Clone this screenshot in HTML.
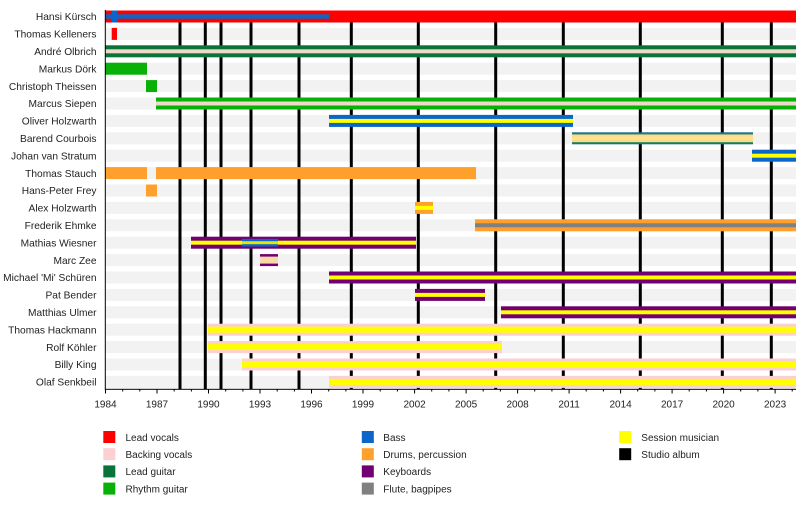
<!DOCTYPE html>
<html>
<head>
<meta charset="utf-8">
<style>
html,body{margin:0;padding:0;background:#fff;}
svg{display:block;}
text{font-family:"Liberation Sans",Arial,sans-serif;fill:#222;}
</style>
</head>
<body>
<svg width="800" height="513" viewBox="0 0 800 513" xmlns="http://www.w3.org/2000/svg">
<rect x="0" y="0" width="800" height="513" fill="#fff"/>

<!-- background bands -->
<g fill="#f2f2f2">
<rect x="105.5" y="10.5" width="690.5" height="12"/>
<rect x="105.5" y="27.9" width="690.5" height="12"/>
<rect x="105.5" y="45.3" width="690.5" height="12"/>
<rect x="105.5" y="62.7" width="690.5" height="12"/>
<rect x="105.5" y="80.1" width="690.5" height="12"/>
<rect x="105.5" y="97.5" width="690.5" height="12"/>
<rect x="105.5" y="114.9" width="690.5" height="12"/>
<rect x="105.5" y="132.3" width="690.5" height="12"/>
<rect x="105.5" y="149.7" width="690.5" height="12"/>
<rect x="105.5" y="167.1" width="690.5" height="12"/>
<rect x="105.5" y="184.5" width="690.5" height="12"/>
<rect x="105.5" y="201.9" width="690.5" height="12"/>
<rect x="105.5" y="219.3" width="690.5" height="12"/>
<rect x="105.5" y="236.7" width="690.5" height="12"/>
<rect x="105.5" y="254.1" width="690.5" height="12"/>
<rect x="105.5" y="271.5" width="690.5" height="12"/>
<rect x="105.5" y="288.9" width="690.5" height="12"/>
<rect x="105.5" y="306.3" width="690.5" height="12"/>
<rect x="105.5" y="323.7" width="690.5" height="12"/>
<rect x="105.5" y="341.1" width="690.5" height="12"/>
<rect x="105.5" y="358.5" width="690.5" height="12"/>
<rect x="105.5" y="375.9" width="690.5" height="12"/>
</g>

<!-- studio album lines -->
<g fill="#000">
<rect x="178.5" y="11" width="3" height="378"/>
<rect x="203.8" y="11" width="3" height="378"/>
<rect x="219.5" y="11" width="3" height="378"/>
<rect x="249.5" y="11" width="3" height="378"/>
<rect x="297.5" y="11" width="3" height="378"/>
<rect x="349.8" y="11" width="3" height="378"/>
<rect x="416.8" y="11" width="3" height="378"/>
<rect x="494.2" y="11" width="3" height="378"/>
<rect x="561.8" y="11" width="3" height="378"/>
<rect x="638.8" y="11" width="3" height="378"/>
<rect x="720.8" y="11" width="3" height="378"/>
<rect x="769.8" y="11" width="3" height="378"/>
</g>

<!-- Row 0 Hansi Kürsch -->
<rect x="105.5" y="10.5" width="690.5" height="12" fill="#ff0000"/>
<rect x="105.5" y="14.3" width="223.8" height="4.4" fill="#0a66c8"/>
<rect x="111.7" y="10.5" width="5.6" height="12" fill="#0a66c8"/>

<!-- Row 1 Thomas Kelleners -->
<rect x="111.7" y="27.9" width="5.3" height="12" fill="#ff0000"/>

<!-- Row 2 André Olbrich -->
<rect x="105.5" y="45.3" width="690.5" height="12" fill="#0a7339"/>
<rect x="105.5" y="49.3" width="690.5" height="4" fill="#efd9c8"/>

<!-- Row 3 Markus Dörk -->
<rect x="105.5" y="62.7" width="41.5" height="12" fill="#08b008"/>

<!-- Row 4 Christoph Theissen -->
<rect x="146" y="80.1" width="11" height="12" fill="#08b008"/>

<!-- Row 5 Marcus Siepen -->
<rect x="156" y="97.5" width="640" height="12" fill="#08b008"/>
<rect x="156" y="101.5" width="640" height="4" fill="#efd9c8"/>

<!-- Row 6 Oliver Holzwarth -->
<rect x="329" y="114.9" width="244" height="12" fill="#0a66c8"/>
<rect x="329" y="118.9" width="244" height="4" fill="#ffff00"/>

<!-- Row 7 Barend Courbois -->
<rect x="572" y="132.3" width="181" height="12" fill="#1a6a9c"/>
<rect x="572" y="133.5" width="181" height="9.6" fill="#2f8a5a"/>
<rect x="572" y="134.5" width="181" height="7.6" fill="#fcd98e"/>
<rect x="572" y="136.8" width="181" height="3" fill="#fde48c"/>

<!-- Row 8 Johan van Stratum -->
<rect x="752" y="149.7" width="44" height="12" fill="#0a66c8"/>
<rect x="752" y="153.7" width="44" height="4" fill="#ffff00"/>

<!-- Row 9 Thomas Stauch -->
<rect x="105.5" y="167.1" width="41.5" height="12" fill="#ffa02c"/>
<rect x="156" y="167.1" width="320" height="12" fill="#ffa02c"/>

<!-- Row 10 Hans-Peter Frey -->
<rect x="146" y="184.5" width="11" height="12" fill="#ffa02c"/>

<!-- Row 11 Alex Holzwarth -->
<rect x="415" y="201.9" width="18" height="12" fill="#ffa02c"/>
<rect x="415" y="205.9" width="18" height="4" fill="#ffff00"/>

<!-- Row 12 Frederik Ehmke -->
<rect x="475" y="219.3" width="321" height="12" fill="#ffa02c"/>
<rect x="475" y="223.3" width="321" height="4" fill="#808080"/>

<!-- Row 13 Mathias Wiesner -->
<rect x="191" y="236.7" width="225" height="12" fill="#720072"/>
<rect x="191" y="240.7" width="225" height="4" fill="#ffff00"/>
<rect x="242" y="238.9" width="36" height="7.6" fill="#0a66c8"/>
<rect x="242" y="241.2" width="36" height="3" fill="#e6e600"/>

<!-- Row 14 Marc Zee -->
<rect x="260" y="254.1" width="18" height="12" fill="#720072"/>
<rect x="260" y="256.6" width="18" height="7" fill="#f9d9a6"/>

<!-- Row 15 Michael 'Mi' Schüren -->
<rect x="329" y="271.5" width="467" height="12" fill="#720072"/>
<rect x="329" y="275.5" width="467" height="4" fill="#ffff00"/>

<!-- Row 16 Pat Bender -->
<rect x="415" y="288.9" width="70" height="12" fill="#720072"/>
<rect x="415" y="292.9" width="70" height="4" fill="#ffff00"/>

<!-- Row 17 Matthias Ulmer -->
<rect x="501" y="306.3" width="295" height="12" fill="#720072"/>
<rect x="501" y="310.3" width="295" height="4" fill="#ffff00"/>

<!-- Row 18 Thomas Hackmann -->
<rect x="208" y="323.7" width="588" height="12" fill="#fccfd2"/>
<rect x="208" y="326.7" width="588" height="6" fill="#ffff00"/>

<!-- Row 19 Rolf Köhler -->
<rect x="208" y="341.1" width="294" height="12" fill="#fccfd2"/>
<rect x="208" y="344.1" width="294" height="6" fill="#ffff00"/>

<!-- Row 20 Billy King -->
<rect x="242" y="358.5" width="554" height="12" fill="#fccfd2"/>
<rect x="242" y="361.5" width="554" height="6" fill="#ffff00"/>

<!-- Row 21 Olaf Senkbeil -->
<rect x="329" y="375.9" width="467" height="12" fill="#fccfd2"/>
<rect x="329" y="378.9" width="467" height="6" fill="#ffff00"/>

<!-- axes -->
<rect x="104.8" y="10" width="1" height="379.5" fill="#000"/>
<rect x="104.8" y="388.8" width="691.2" height="1" fill="#000"/>
<g stroke="#000" stroke-width="1">
<path d="M122.7 389v2.5M139.8 389v2.5M174.2 389v2.5M191.4 389v2.5M225.7 389v2.5M242.9 389v2.5M277.2 389v2.5M294.4 389v2.5M328.7 389v2.5M345.9 389v2.5M380.2 389v2.5M397.4 389v2.5M431.7 389v2.5M448.9 389v2.5M483.2 389v2.5M500.4 389v2.5M534.7 389v2.5M551.9 389v2.5M586.2 389v2.5M603.4 389v2.5M637.7 389v2.5M654.9 389v2.5M689.2 389v2.5M706.4 389v2.5M740.7 389v2.5M757.9 389v2.5M792.2 389v2.5"/>
<path d="M105.5 389v4.5M157 389v4.5M208.5 389v4.5M260 389v4.5M311.5 389v4.5M363 389v4.5M414.6 389v4.5M466.1 389v4.5M517.6 389v4.5M569.1 389v4.5M620.6 389v4.5M672.1 389v4.5M723.6 389v4.5M775.1 389v4.5"/>
</g>
<g font-size="10" text-anchor="middle">
<text x="105.5" y="407.5">1984</text>
<text x="157" y="407.5">1987</text>
<text x="208.5" y="407.5">1990</text>
<text x="260" y="407.5">1993</text>
<text x="311.5" y="407.5">1996</text>
<text x="363" y="407.5">1999</text>
<text x="414.6" y="407.5">2002</text>
<text x="466.1" y="407.5">2005</text>
<text x="517.6" y="407.5">2008</text>
<text x="569.1" y="407.5">2011</text>
<text x="620.6" y="407.5">2014</text>
<text x="672.1" y="407.5">2017</text>
<text x="723.6" y="407.5">2020</text>
<text x="775.1" y="407.5">2023</text>
</g>

<!-- row labels -->
<g font-size="10.2" text-anchor="end">
<text x="96.5" y="20.2">Hansi Kürsch</text>
<text x="96.5" y="37.6">Thomas Kelleners</text>
<text x="96.5" y="55">André Olbrich</text>
<text x="96.5" y="72.4">Markus Dörk</text>
<text x="96.5" y="89.8">Christoph Theissen</text>
<text x="96.5" y="107.2">Marcus Siepen</text>
<text x="96.5" y="124.6">Oliver Holzwarth</text>
<text x="96.5" y="142">Barend Courbois</text>
<text x="96.5" y="159.4">Johan van Stratum</text>
<text x="96.5" y="176.8">Thomas Stauch</text>
<text x="96.5" y="194.2">Hans-Peter Frey</text>
<text x="96.5" y="211.6">Alex Holzwarth</text>
<text x="96.5" y="229">Frederik Ehmke</text>
<text x="96.5" y="246.4">Mathias Wiesner</text>
<text x="96.5" y="263.8">Marc Zee</text>
<text x="96.5" y="281.2">Michael 'Mi' Schüren</text>
<text x="96.5" y="298.6">Pat Bender</text>
<text x="96.5" y="316">Matthias Ulmer</text>
<text x="96.5" y="333.4">Thomas Hackmann</text>
<text x="96.5" y="350.8">Rolf Köhler</text>
<text x="96.5" y="368.2">Billy King</text>
<text x="96.5" y="385.6">Olaf Senkbeil</text>
</g>

<!-- legend -->
<rect x="103.3" y="431" width="12" height="12" fill="#ff0000"/>
<rect x="103.3" y="448.2" width="12" height="12" fill="#fccfd2"/>
<rect x="103.3" y="465.4" width="12" height="12" fill="#0a7339"/>
<rect x="103.3" y="482.6" width="12" height="12" fill="#08b008"/>
<rect x="361.8" y="431" width="12" height="12" fill="#0a66c8"/>
<rect x="361.8" y="448.2" width="12" height="12" fill="#ffa02c"/>
<rect x="361.8" y="465.4" width="12" height="12" fill="#720072"/>
<rect x="361.8" y="482.6" width="12" height="12" fill="#808080"/>
<rect x="619.2" y="431" width="12" height="12" fill="#ffff00"/>
<rect x="619.2" y="448.2" width="12" height="12" fill="#000000"/>
<g font-size="10">
<text x="125.5" y="440.8">Lead vocals</text>
<text x="125.5" y="458">Backing vocals</text>
<text x="125.5" y="475.2">Lead guitar</text>
<text x="125.5" y="492.4">Rhythm guitar</text>
<text x="383.3" y="440.8">Bass</text>
<text x="383.3" y="458">Drums, percussion</text>
<text x="383.3" y="475.2">Keyboards</text>
<text x="383.3" y="492.4">Flute, bagpipes</text>
<text x="641.3" y="440.8">Session musician</text>
<text x="641.3" y="458">Studio album</text>
</g>
</svg>
</body>
</html>
